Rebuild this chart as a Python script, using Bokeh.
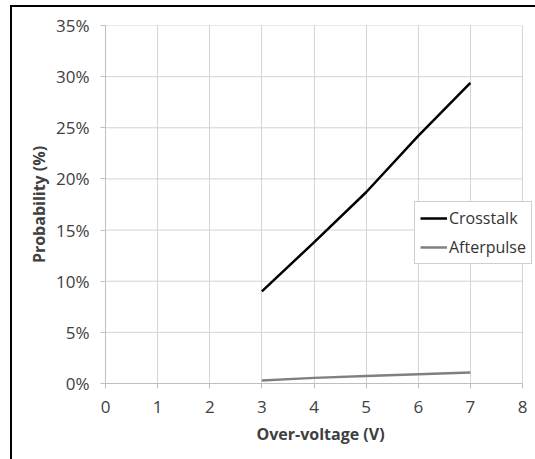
from bokeh.plotting import figure
from bokeh.models import Range1d, FixedTicker, PrintfTickFormatter, Legend, LegendItem
from bokeh.embed import file_html
from bokeh.resources import INLINE

# Data (probability in %)
crosstalk_v = [3, 4, 5, 6, 7]
crosstalk_p = [9.0, 13.8, 18.7, 24.2, 29.4]
afterpulse_v = [3, 4, 5, 6, 7]
afterpulse_p = [0.3, 0.55, 0.74, 0.9, 1.07]
x_ticks = [0, 1, 2, 3, 4, 5, 6, 7, 8]
y_ticks = [0, 5, 10, 15, 20, 25, 30, 35]

FONT = "Open Sans"
TICK_COLOR = "#404040"
GRID = "#d4d4d4"
AXIS = "#bfbfbf"

# the frame runs past x=8 to the right edge so that the legend is not clipped
x_end = x_ticks[-1] * 430 / 417

p = figure(width=523, height=452, output_backend="svg", toolbar_location=None,
           x_range=Range1d(0, x_end), y_range=Range1d(0, 35),
           frame_width=430, frame_height=358,
           min_border_left=93, min_border_right=0, min_border_top=18, min_border_bottom=76,
           styles={"border-left": "2px solid black", "border-top": "2px solid black",
                   "margin-left": "10px", "margin-top": "5px"})
p.outline_line_color = None
p.background_fill_color = "white"
p.border_fill_color = "white"

for ax in (p.xaxis[0], p.yaxis[0]):
    ax.axis_line_color = AXIS
    ax.major_tick_line_color = AXIS
    ax.minor_tick_line_color = None
    ax.major_tick_out = 5
    ax.major_tick_in = 0
    ax.major_label_text_font = FONT
    ax.major_label_text_font_size = "17px"
    ax.major_label_text_color = TICK_COLOR
    ax.axis_label_text_font = FONT
    ax.axis_label_text_font_size = "16px"
    ax.axis_label_text_font_style = "bold"
    ax.axis_label_text_color = "#404040"

p.xaxis.ticker = FixedTicker(ticks=x_ticks)
p.xaxis.bounds = (x_ticks[0], x_ticks[-1])
p.yaxis.ticker = FixedTicker(ticks=y_ticks)
p.yaxis.formatter = PrintfTickFormatter(format="%d%%")
p.xaxis.axis_label = "Over-voltage (V)"
p.yaxis.axis_label = "Probability (%)"
p.xaxis.major_label_standoff = 12
p.yaxis.major_label_standoff = 11
p.xaxis.axis_label_standoff = 7
p.yaxis.axis_label_standoff = 3

p.xgrid.ticker = FixedTicker(ticks=x_ticks)
p.xgrid.grid_line_color = GRID
p.xgrid.grid_line_width = 1
p.ygrid.visible = False

# horizontal gridlines that stop at the last x tick
p.segment(x0=[x_ticks[0]] * len(y_ticks), x1=[x_ticks[-1]] * len(y_ticks),
          y0=y_ticks, y1=y_ticks, line_color=GRID, line_width=1)

r1 = p.line(crosstalk_v, crosstalk_p, line_color="black", line_width=2.5)
r2 = p.line(afterpulse_v, afterpulse_p, line_color="#808080", line_width=2.5)

legend = Legend(items=[LegendItem(label="Crosstalk", renderers=[r1]),
                       LegendItem(label="Afterpulse", renderers=[r2])],
                location=(309, 119))
legend.label_text_font = FONT
legend.label_text_font_size = "16px"
legend.label_text_color = "#333333"
legend.glyph_width = 27
legend.label_standoff = 2
legend.padding = 5
legend.spacing = 7
legend.margin = 0
legend.border_line_color = "#a0a0a0"
legend.border_line_width = 1
legend.background_fill_alpha = 1
p.add_layout(legend)

open("out.html", "w").write(file_html(p, INLINE))
